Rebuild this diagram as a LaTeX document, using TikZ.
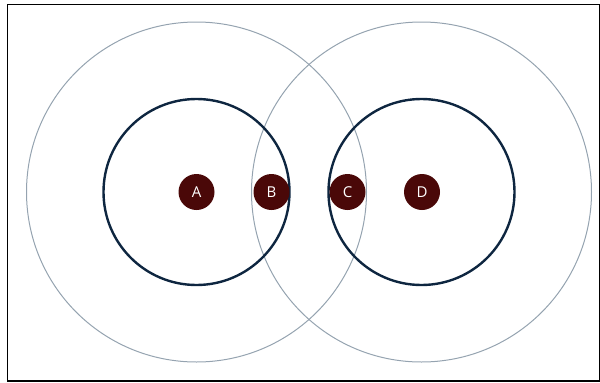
\documentclass[tikz,border=0pt]{standalone}
\usepackage{fontspec}
\setmainfont{Open Sans}
\definecolor{outerc}{HTML}{95A3B0}
\definecolor{innerc}{HTML}{0E2640}
\definecolor{dotc}{HTML}{4A0808}
\tikzset{
  outer/.style={draw=outerc, line width=1pt},
  inner/.style={draw=innerc, line width=2.4pt},
  dot/.style={circle, fill=dotc, minimum size=36pt, inner sep=0pt, text=white, font=\fontsize{15}{15}\selectfont},
}
\begin{document}
\begin{tikzpicture}[x=1pt,y=-1pt]
\useasboundingbox (0,0) rectangle (600,383);
\draw[line width=1.4pt] (7.5,4.5) rectangle (599.3,381);
\coordinate (L) at (196.5,192);
\coordinate (R) at (421.5,192);
\draw[outer] (L) circle (170);
\draw[outer] (R) circle (170);
\draw[inner] (L) circle (93);
\draw[inner] (R) circle (93);
\node[dot] (a) at (196.5,192) {A};
\node[dot] (b) at (271.5,192) {B};
\node[dot] (c) at (347.5,192) {C};
\node[dot] (d) at (422,192) {D};
\end{tikzpicture}
\end{document}
